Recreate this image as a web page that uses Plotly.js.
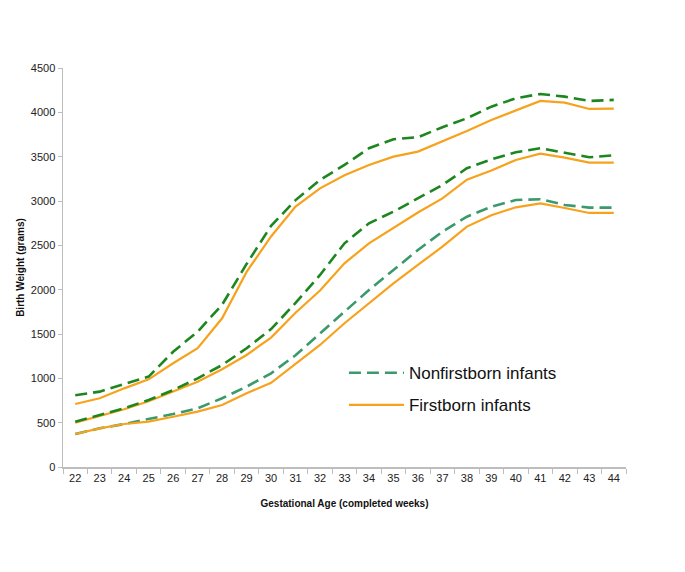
<!DOCTYPE html>
<html>
<head>
<meta charset="utf-8">
<script src="https://cdn.plot.ly/plotly-3.0.1.min.js"></script>
<style>html,body{margin:0;padding:0;background:#fff;}#chart{width:685px;height:572px;}</style>
</head>
<body>
<div id="chart"></div>
<script>
var weeks = ["22","23","24","25","26","27","28","29","30","31","32","33","34","35","36","37","38","39","40","41","42","43","44"];

var nonfirstHigh = [810, 850, 936, 1020, 1300, 1526, 1830, 2290, 2720, 3010, 3237, 3407, 3595, 3696, 3719, 3832, 3933, 4064, 4159, 4207, 4177, 4128, 4140];
var firstHigh    = [711, 775, 887, 989, 1170, 1339, 1677, 2200, 2600, 2936, 3143, 3290, 3407, 3500, 3557, 3670, 3790, 3914, 4025, 4128, 4110, 4038, 4042];

var nonfirstMid  = [511, 587, 662, 756, 868, 1000, 1150, 1339, 1555, 1850, 2166, 2523, 2749, 2880, 3030, 3181, 3369, 3470, 3550, 3595, 3545, 3493, 3516];
var firstMid     = [500, 573, 651, 741, 850, 962, 1102, 1263, 1460, 1740, 1990, 2297, 2523, 2700, 2870, 3030, 3240, 3345, 3463, 3534, 3489, 3432, 3432];

var nonfirstLow  = [372, 436, 485, 538, 598, 662, 775, 906, 1057, 1260, 1508, 1752, 1997, 2222, 2448, 2654, 2823, 2935, 3012, 3020, 2955, 2925, 2925];
var firstLow     = [372, 436, 485, 511, 567, 624, 699, 831, 950, 1165, 1376, 1621, 1847, 2072, 2279, 2485, 2711, 2840, 2929, 2974, 2921, 2865, 2865];

var darkGreen = "#1d861f";
var tealGreen = "#3a9a6c";
var orange = "#f7a21d";
var dashPat = "12px,6px";

function dashed(y, color, name, show, grp) {
  return {x: weeks, y: y, type: "scatter", mode: "lines", name: name, showlegend: show, legendgroup: grp,
          line: {color: color, width: 2.6, dash: dashPat}, hoverinfo: "skip"};
}
function solid(y, name, show, grp) {
  return {x: weeks, y: y, type: "scatter", mode: "lines", name: name, showlegend: show, legendgroup: grp,
          line: {color: orange, width: 2.2}, hoverinfo: "skip"};
}

var data = [
  dashed(nonfirstLow, tealGreen, "Nonfirstborn infants", true, "a"),
  solid(firstLow, "Firstborn infants", true, "b"),
  solid(firstMid, "Firstborn infants", false, "b"),
  solid(firstHigh, "Firstborn infants", false, "b"),
  dashed(nonfirstMid, darkGreen, "Nonfirstborn infants", false, "a"),
  dashed(nonfirstHigh, darkGreen, "Nonfirstborn infants", false, "a")
];

var layout = {
  width: 685, height: 572,
  paper_bgcolor: "#ffffff", plot_bgcolor: "#ffffff",
  margin: {l: 63, r: 59, t: 68, b: 105},
  font: {family: "Liberation Sans, Arial, sans-serif", color: "#222222", size: 11},
  showlegend: true,
  legend: {
    x: 0.499, y: 0.195, xanchor: "left", yanchor: "middle",
    font: {size: 17, color: "#111111"},
    bgcolor: "rgba(0,0,0,0)", tracegroupgap: 7, itemwidth: 55,
    traceorder: "grouped"
  },
  xaxis: {
    type: "category",
    range: [-0.5, 22.5],
    tickson: "boundaries",
    ticks: "outside", ticklen: 5, tickcolor: "#bdbdbd", tickwidth: 1,
    showline: true, linecolor: "#bdbdbd", linewidth: 1.5,
    showgrid: false, zeroline: false,
    tickfont: {size: 11, color: "#222222"},
    title: {text: "<b>Gestational Age (completed weeks)</b>", font: {size: 10, color: "#111111"}, standoff: 17},
    fixedrange: true
  },
  yaxis: {
    range: [0, 4500], dtick: 500,
    ticks: "outside", ticklen: 4, tickcolor: "#bdbdbd", tickwidth: 1,
    showline: true, linecolor: "#bdbdbd", linewidth: 1.5,
    showgrid: false, zeroline: false,
    tickfont: {size: 11, color: "#222222"},
    title: {text: "<b>Birth Weight (grams)</b>", font: {size: 10, color: "#111111"}, standoff: 4},
    fixedrange: true
  }
};

Plotly.newPlot("chart", data, layout, {displayModeBar: false, staticPlot: true});
</script>
</body>
</html>
